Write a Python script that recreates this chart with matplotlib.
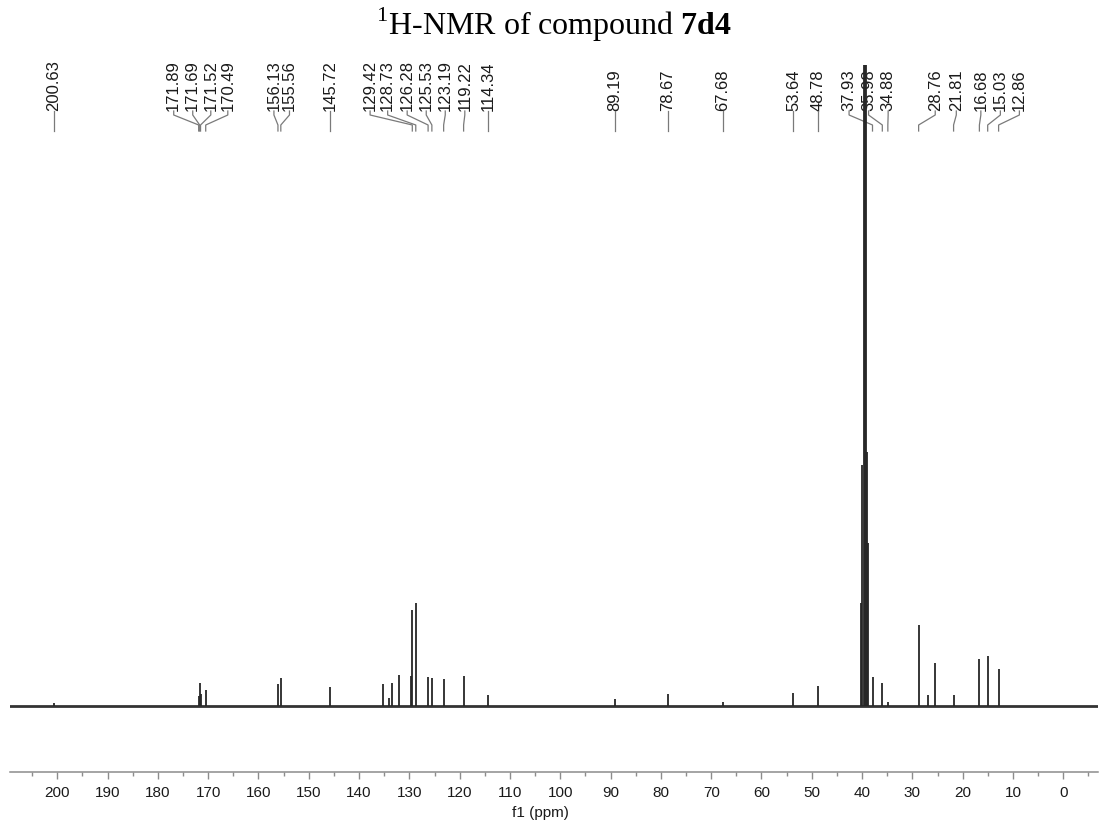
import matplotlib
matplotlib.use("Agg")
import matplotlib.pyplot as plt
import matplotlib.transforms as mtransforms
from matplotlib.ticker import MultipleLocator

# ---------------- data ----------------
# peak positions (ppm) and intensities (arbitrary units, baseline = 0)
peak_ppm = [200.63,
            171.89, 171.69, 171.52, 170.49,
            156.13, 155.56, 145.72,
            135.30, 134.00, 133.45, 132.10,
            129.70, 129.42, 128.73,
            126.28, 125.53, 123.19, 119.22, 114.34,
            89.19, 78.67, 67.68,
            53.64, 48.78,
            40.13, 39.92, 39.71, 39.50, 39.29, 39.08, 38.87,
            37.93, 35.98, 34.88,
            28.76, 26.80, 25.45, 21.81,
            16.68, 15.03, 12.86]
peak_int = [3,
            10, 23, 12, 16,
            22, 28, 19,
            22, 8, 23, 31,
            30, 96, 103,
            29, 28, 27, 30, 11,
            7, 12, 4,
            13, 20,
            103, 241, 700, 760, 700, 254, 163,
            29, 23, 4,
            81, 11, 43, 11,
            47, 50, 37]

# labelled peaks
label_values = [200.63, 171.89, 171.69, 171.52, 170.49, 156.13, 155.56,
                145.72, 129.42, 128.73, 126.28, 125.53, 123.19, 119.22,
                114.34, 89.19, 78.67, 67.68, 53.64, 48.78, 37.93, 35.98,
                34.88, 28.76, 21.81, 16.68, 15.03, 12.86]
# where each label text sits along the axis (ppm), spread to avoid overlap
label_pos_ppm = [200.63, 176.85, 173.07, 169.48, 166.10, 156.93, 153.84,
                 145.72, 137.81, 134.32, 130.44, 126.65, 122.87, 118.98,
                 114.34, 89.19, 78.67, 67.68, 53.64, 48.78, 42.59, 38.71,
                 34.82, 25.46, 21.27, 16.39, 12.51, 8.73]

x_ticks = [200, 190, 180, 170, 160, 150, 140, 130, 120, 110, 100,
           90, 80, 70, 60, 50, 40, 30, 20, 10, 0]

W, H = 1099, 821
plt.rcParams['mathtext.fontset'] = 'custom'
plt.rcParams['mathtext.rm'] = 'Liberation Serif'
plt.rcParams['mathtext.bf'] = 'Liberation Serif:bold'

fig = plt.figure(figsize=(W / 100, H / 100), dpi=100)
fig.patch.set_facecolor('white')

def fy(ypx):
    return 1 - ypx / H

base_px, top_px, axis_px = 706, 65, 772
ax = fig.add_axes([10 / W, fy(axis_px), (1098 - 10) / W, (axis_px - top_px) / H])
ax.set_xlim(209.4, -6.9)
ax.set_ylim(-(axis_px - base_px), base_px - top_px)

ax.vlines(peak_ppm, 0, peak_int, color='#262626', lw=1.3, zorder=4)
ax.axhline(0, color='#333333', lw=2.0, zorder=2)

for s in ['left', 'right', 'top']:
    ax.spines[s].set_visible(False)
ax.spines['bottom'].set_color('#8c8c8c')
ax.spines['bottom'].set_linewidth(1.1)
ax.set_yticks([])
ax.set_xticks(x_ticks)
ax.set_xticklabels([str(t) for t in x_ticks])
ax.xaxis.set_minor_locator(MultipleLocator(5))
ax.tick_params(axis='x', which='major', direction='out', length=5, width=1.0,
               color='#8c8c8c', labelsize=11, pad=5, labelcolor='#1a1a1a')
ax.tick_params(axis='x', which='minor', direction='out', length=3, width=1.0,
               color='#8c8c8c')
for lab in ax.get_xticklabels():
    lab.set_fontfamily('Liberation Sans')

fig.text(540 / W, fy(813), 'f1 (ppm)', ha='center', va='center', fontsize=11,
         family='Liberation Sans', color='#1a1a1a')

# title
fig.text(554 / W, fy(35), r'$^{1}$H-NMR of compound $\mathbf{7d4}$',
         ha='center', va='baseline', fontsize=23, family='Liberation Serif')

# peak labels with leader lines
trans = mtransforms.blended_transform_factory(ax.transData, fig.transFigure)
text_bottom, y1, y2, y3 = 111, 115, 125, 131
for v, lp in zip(label_values, label_pos_ppm):
    ax.text(lp, fy(text_bottom), f"{v:.2f}", rotation=90,
            ha='center', va='bottom', fontsize=12,
            family='Liberation Sans', color='#1a1a1a',
            transform=trans, clip_on=False, zorder=3)
    ax.plot([lp, lp, v, v], [fy(text_bottom), fy(y1), fy(y2), fy(y3)],
            color='#7a7a7a', lw=0.9, transform=trans, clip_on=False, zorder=3)

fig.savefig('out.png', dpi=100)
